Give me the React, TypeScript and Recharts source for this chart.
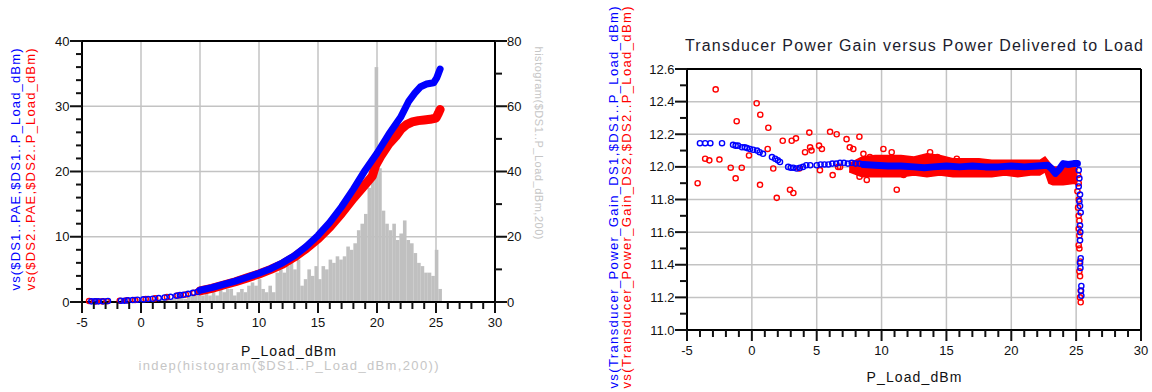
import {
  ComposedChart,
  XAxis,
  YAxis,
  CartesianGrid,
  Scatter,
  Line,
  Bar,
  Area,
  ReferenceLine,
} from 'recharts'

const FONT = '"Liberation Sans", Arial, sans-serif'
const BLUE = '#0000ff'
const RED = '#ff0000'
const GRID = '#c3c3c3'
const HIST_GRAY = '#c0c0c0'
const LIGHT_TEXT = '#c6c6c6'

const X_TICKS = [
  -5, -4, -3, -2, -1, 0, 1, 2, 3, 4, 5, 6, 7, 8, 9, 10, 11, 12, 13, 14, 15, 16, 17, 18, 19, 20, 21,
  22, 23, 24, 25, 26, 27, 28, 29, 30,
]
const X_GRID = [0, 5, 10, 15, 20, 25]
const PAE_TICKS = [0, 2, 4, 6, 8, 10, 12, 14, 16, 18, 20, 22, 24, 26, 28, 30, 32, 34, 36, 38, 40]
const PAE_GRID = [10, 20, 30]
const HIST_TICKS = [0, 10, 20, 30, 40, 50, 60, 70, 80]
const GAIN_TICKS = [
  11.0, 11.1, 11.2, 11.3, 11.4, 11.5, 11.6, 11.7, 11.8, 11.9, 12.0, 12.1, 12.2, 12.3, 12.4, 12.5, 12.6,
]
const GAIN_GRID = [11.2, 11.4, 11.6, 11.8, 12.0, 12.2, 12.4]

// PAE vs P_Load, DS1 (blue) and DS2 (red): sparse low-power points, then the dense sweep
const PAE1_SPARSE_X = [-4.2, -3.9, -3.6, -3.2, -2.8, -1.7, -1.4, -1.1, -0.7, -0.3, 0.2, 0.6, 1.0, 1.5, 2.0, 2.5, 3.0, 3.3, 3.6, 4.0, 4.4, 4.8]
const PAE1_SPARSE_Y = [0.1, 0.1, 0.1, 0.1, 0.15, 0.2, 0.2, 0.25, 0.3, 0.35, 0.4, 0.45, 0.5, 0.6, 0.7, 0.8, 0.95, 1.05, 1.1, 1.25, 1.4, 1.55]
const PAE2_SPARSE_X = [-4.4, -3.8, -3.3, -2.9, -1.8, -1.2, -0.5, 0.4, 1.2, 2.2, 3.1, 3.8, 4.5]
const PAE2_SPARSE_Y = [0.15, 0.1, 0.1, 0.12, 0.2, 0.25, 0.3, 0.45, 0.55, 0.75, 1.0, 1.15, 1.4]

const PAE1_X = [5, 6, 7, 8, 9, 10, 11, 12, 13, 14, 15, 16, 17, 18, 19, 20, 21, 22, 22.7, 23.2, 23.7, 24.2, 24.8, 25.05, 25.2, 25.35]
const PAE1_Y = [1.8, 2.2, 2.7, 3.2, 3.8, 4.4, 5.1, 6.0, 7.1, 8.5, 10.2, 12.2, 14.6, 17.3, 20.2, 22.8, 25.7, 28.3, 30.8, 32.0, 33.0, 33.4, 33.6, 34.3, 35.0, 35.7]
const PAE2_X = [5, 6, 7, 8, 9, 10, 11, 12, 13, 14, 15, 16, 17, 18, 19, 19.6, 19.9, 20.3, 21, 21.6, 22, 22.5, 23, 23.5, 24, 24.5, 25, 25.2, 25.35]
const PAE2_Y = [1.7, 2.1, 2.6, 3.1, 3.7, 4.3, 5.0, 5.8, 6.9, 8.2, 9.7, 11.5, 13.6, 15.9, 18.0, 19.3, 21.0, 22.3, 24.2, 25.4, 26.4, 27.2, 27.6, 27.8, 27.9, 28.0, 28.2, 28.9, 29.5]

// histogram($DS1..P_Load_dBm): bins of 0.3 dBm starting at -4.5
const HIST_FIRST_CENTER = -4.35
const HIST_BIN = 0.3
const HIST_COUNTS = [
  1, 1, 1, 1, 1, 1, 0, 0, 0, 1, 1, 1, 1, 1, 1, 1, 1, 1, 1, 1,
  1, 1, 1, 1, 1, 2, 2, 1, 2, 2, 2, 2, 2, 3, 2, 3, 2, 4, 3, 4,
  4, 2, 3, 4, 3, 5, 6, 5, 7, 4, 3, 5, 3, 9, 10, 9, 11, 12, 10, 13,
  5, 7, 10, 8, 11, 7, 11, 10, 13, 12, 14, 13, 14, 17, 16, 18, 22, 24, 27, 35,
  42, 72, 41, 28, 24, 22, 24, 19, 21, 25, 19, 18, 15, 12, 11, 9, 9, 8, 16, 4,
]

// Transducer power gain vs P_Load
const GAIN1_SPARSE_X = [-4.0, -3.6, -3.2, -2.3, -1.45, -1.25, -1.07, -0.76, -0.55, -0.37, -0.14, 0.1, 0.4, 0.6, 0.86, 1.55, 1.8, 2.0, 2.17, 2.8, 3.0, 3.2, 3.45, 3.7, 3.94, 4.2, 4.5, 5.0, 5.3, 5.6, 5.9, 6.2, 6.5, 6.8, 7.1, 7.4, 7.7, 8.0, 8.3, 8.6]
const GAIN1_SPARSE_Y = [12.145, 12.145, 12.145, 12.145, 12.135, 12.13, 12.13, 12.12, 12.12, 12.115, 12.11, 12.105, 12.1, 12.09, 12.08, 12.06, 12.05, 12.04, 12.03, 12.0, 11.995, 11.995, 11.99, 11.995, 12.0, 12.01, 12.01, 12.01, 12.015, 12.015, 12.015, 12.02, 12.02, 12.025, 12.025, 12.02, 12.025, 12.02, 12.02, 12.015]
const GAIN1_X = [8.6, 9.5, 10.5, 11.5, 12.5, 13.3, 14.0, 15, 16, 17, 18, 19, 20, 21, 22, 22.8, 23.1, 23.4, 23.7, 24.0, 24.4, 24.8, 25.1]
const GAIN1_Y = [12.015, 12.01, 12.005, 12.005, 12.0, 11.995, 12.0, 12.005, 12.0, 12.005, 12.0, 12.0, 12.005, 12.0, 12.005, 12.01, 11.99, 11.96, 11.985, 12.02, 12.015, 12.02, 12.02]
const GAIN1_DROP_X = [25.2, 25.25, 25.2, 25.3, 25.25, 25.3, 25.35, 25.3, 25.32, 25.3, 25.35, 25.3, 25.33, 25.4, 25.38, 25.4]
const GAIN1_DROP_Y = [11.98, 11.93, 11.88, 11.83, 11.79, 11.76, 11.72, 11.64, 11.6, 11.55, 11.44, 11.41, 11.38, 11.27, 11.24, 11.21]

const GAIN2_X = [-4.18, -3.6, -3.28, -2.79, -2.5, -1.63, -1.25, -1.17, -0.78, -0.22, 0.37, 0.65, 0.63, 1.22, 1.27, 1.65, 1.92, 2.38, 2.94, 3.2, 3.07, 3.4, 3.66, 4.1, 4.43, 4.49, 4.6, 5.18, 5.25, 5.4, 6.03, 6.23, 6.54, 6.65, 6.8, 7.3, 7.55, 7.82, 8.29, 8.1, 8.3, 8.86, 8.6, 9.1, 10.14, 10.78, 11.17, 13.74, 9.37, 11.7, 14.3, 15.8]
const GAIN2_Y = [11.9, 12.05, 12.04, 12.475, 12.045, 11.995, 11.93, 12.28, 11.995, 12.07, 12.39, 12.32, 11.89, 12.11, 12.24, 11.99, 11.81, 12.16, 11.86, 11.84, 12.16, 12.175, 11.99, 12.09, 12.21, 12.12, 12.1, 12.13, 11.98, 12.11, 12.215, 11.95, 12.2, 12.0, 12.0, 12.17, 12.12, 12.11, 12.185, 11.99, 11.94, 11.92, 12.08, 12.06, 12.11, 12.09, 11.86, 12.09, 11.96, 11.95, 12.06, 12.05]
const GAIN2_BAND_X = [7.5, 8.5, 9.5, 10.5, 11.5, 12.5, 13.5, 14.5, 15.5, 16.5, 17.5, 18.5, 19.5, 20.5, 21.5, 22.2, 22.6, 22.9, 23.2, 24, 24.9, 25.1]
const GAIN2_BAND_HI = [12.02, 12.06, 12.07, 12.07, 12.07, 12.06, 12.08, 12.07, 12.05, 12.05, 12.05, 12.04, 12.04, 12.04, 12.04, 12.04, 12.06, 12.03, 12.0, 12.0, 12.0, 11.98]
const GAIN2_BAND_LO = [11.97, 11.94, 11.94, 11.94, 11.94, 11.95, 11.94, 11.95, 11.94, 11.94, 11.94, 11.94, 11.95, 11.94, 11.95, 11.95, 11.97, 11.9, 11.89, 11.89, 11.9, 11.88]
const GAIN2_DROP_X = [25.15, 25.2, 25.1, 25.2, 25.15, 25.2, 25.25, 25.2, 25.25, 25.2, 25.25, 25.3, 25.25, 25.3, 25.35, 25.3, 25.35]
const GAIN2_DROP_Y = [11.95, 11.9, 11.85, 11.8, 11.75, 11.7, 11.67, 11.62, 11.58, 11.52, 11.5, 11.42, 11.36, 11.33, 11.24, 11.2, 11.17]

const TITLE = 'Transducer Power Gain versus Power Delivered to Load'

const pts = (xs: number[], ys: number[]) => xs.map((x, i) => ({ x, y: ys[i] }))

const histRows = HIST_COUNTS.map((h, i) => ({
  x: +(HIST_FIRST_CENTER + i * HIST_BIN).toFixed(2),
  h,
}))
const bandRows = GAIN2_BAND_X.map((x, i) => ({ x, y: [GAIN2_BAND_LO[i], GAIN2_BAND_HI[i]] }))

const ring = (color: string) => (p: any) =>
  <circle cx={p.cx} cy={p.cy} r={2.6} fill="none" stroke={color} strokeWidth={1.4} />

// histogram bars: fixed 3.6px width around the bin centre the axis gives us
const HistBar = (p: any) => {
  if (!p.height) return <g />
  const cx = p.x + p.width / 2
  return <rect x={cx - 1.8} y={p.y} width={3.6} height={p.height} fill={HIST_GRAY} />
}

const tickText = { fontFamily: FONT, fontSize: 13, fill: '#111' }
const INK = '#111'

// tick marks as stroked paths, majors longer, labels on the majors only
const XTick = (p: any) => {
  const v = p.payload.value
  const major = v % 5 === 0
  return (
    <g>
      <path d={`M${p.x},${p.y}v${major ? 11 : 7}`} stroke={INK} strokeWidth={2} fill="none" />
      {major && (
        <text x={p.x} y={p.y + 24.5} textAnchor="middle" {...tickText}>
          {v}
        </text>
      )}
    </g>
  )
}

const LeftTick = (isMajor: (v: number) => boolean, minor: number, fmt: (v: number) => string) => (p: any) => {
  const v = p.payload.value
  const major = isMajor(v)
  const len = major ? 12 : minor
  return (
    <g>
      <path d={`M${p.x},${p.y}h${-len}`} stroke={INK} strokeWidth={2} fill="none" />
      {major && (
        <text x={p.x - 12.5} y={p.y + 4.5} textAnchor="end" {...tickText}>
          {fmt(v)}
        </text>
      )}
    </g>
  )
}

const HistTick = (p: any) => {
  const v = p.payload.value
  const major = v % 20 === 0
  return (
    <g>
      <path d={`M${p.x},${p.y}h${major ? 12 : 7}`} stroke={INK} strokeWidth={2} fill="none" />
      {major && (
        <text x={p.x + 12} y={p.y + 4.5} textAnchor="start" {...tickText}>
          {v}
        </text>
      )}
    </g>
  )
}

const PaeTick = LeftTick((v) => v % 10 === 0, 6, (v) => String(v))
const GainTick = LeftTick((v) => Math.round(v * 10) % 2 === 0, 7, (v) => v.toFixed(1))

const rotated = (x: number, y: number, angle: number, color: string, size: number, len: number, txt: string) => (
  <text
    transform={`translate(${x}, ${y}) rotate(${angle})`}
    textAnchor="middle"
    fontFamily={FONT}
    fontSize={size}
    fill={color}
    textLength={len}
    lengthAdjust="spacing"
  >
    {txt}
  </text>
)

const axisLine = { stroke: '#000', strokeWidth: 2 }

function PaeChart() {
  return (
    <ComposedChart width={560} height={392} data={histRows} margin={{ top: 41, right: 0, bottom: 20, left: 0 }}>
      <CartesianGrid
        yAxisId="pae"
        stroke={GRID}
        strokeWidth={1.5}
        verticalValues={X_GRID}
        horizontalValues={PAE_GRID}
      />
      <XAxis
        dataKey="x"
        type="number"
        domain={[-5, 30]}
        ticks={X_TICKS}
        interval={0}
        tickSize={0}
        tickMargin={0}
        tickLine={false}
        tick={XTick}
        axisLine={axisLine}
        height={70}
        label={(p: any) => {
          const vb = p.viewBox
          const cx = vb.x + vb.width / 2
          return (
            <g>
              <text x={cx} y={vb.y + 54} textAnchor="middle" fontFamily={FONT} fontSize={14} fill="#111" textLength={95} lengthAdjust="spacing">
                P_Load_dBm
              </text>
              <text x={cx} y={vb.y + 68} textAnchor="middle" fontFamily={FONT} fontSize={13} fill={LIGHT_TEXT} textLength={300} lengthAdjust="spacing">
                indep(histogram($DS1..P_Load_dBm,200))
              </text>
            </g>
          )
        }}
      />
      <YAxis
        yAxisId="pae"
        type="number"
        domain={[0, 40]}
        ticks={PAE_TICKS}
        interval={0}
        width={82}
        tickSize={0}
        tickMargin={0}
        tickLine={false}
        tick={PaeTick}
        axisLine={axisLine}
        label={(p: any) => {
          const vb = p.viewBox
          const cy = vb.y + vb.height / 2 - 2
          return (
            <g>
              {rotated(vb.x + 20, cy, -90, BLUE, 13, 242, 'vs($DS1..PAE,$DS1..P_Load_dBm)')}
              {rotated(vb.x + 35, cy, -90, RED, 13, 242, 'vs($DS2..PAE,$DS2..P_Load_dBm)')}
            </g>
          )
        }}
      />
      <YAxis
        yAxisId="hist"
        orientation="right"
        type="number"
        domain={[0, 80]}
        ticks={HIST_TICKS}
        interval={0}
        width={65}
        tickSize={0}
        tickMargin={0}
        tickLine={false}
        tick={HistTick}
        axisLine={axisLine}
        label={(p: any) => {
          const vb = p.viewBox
          return rotated(vb.x + 40, 143, 90, LIGHT_TEXT, 11, 193, 'histogram($DS1..P_Load_dBm,200)')
        }}
      />
      <Bar yAxisId="hist" dataKey="h" fill={HIST_GRAY} shape={HistBar} isAnimationActive={false} />
      <Scatter yAxisId="pae" data={pts(PAE2_SPARSE_X, PAE2_SPARSE_Y)} dataKey="y" shape={ring(RED)} isAnimationActive={false} />
      <Line
        yAxisId="pae"
        data={pts(PAE2_X, PAE2_Y)}
        dataKey="y"
        type="linear"
        stroke={RED}
        strokeWidth={9}
        strokeLinecap="round"
        strokeLinejoin="round"
        dot={false}
        isAnimationActive={false}
      />
      <Scatter yAxisId="pae" data={pts(PAE1_SPARSE_X, PAE1_SPARSE_Y)} dataKey="y" shape={ring(BLUE)} isAnimationActive={false} />
      <Line
        yAxisId="pae"
        data={pts(PAE1_X, PAE1_Y)}
        dataKey="y"
        type="linear"
        stroke={BLUE}
        strokeWidth={7}
        strokeLinecap="round"
        strokeLinejoin="round"
        dot={false}
        isAnimationActive={false}
      />
      <ReferenceLine yAxisId="pae" y={40} stroke="#000" strokeWidth={2} ifOverflow="visible" />
    </ComposedChart>
  )
}

function GainChart() {
  return (
    <ComposedChart width={592} height={392} data={bandRows} margin={{ top: 69, right: 11, bottom: 0, left: 0 }}>
      <CartesianGrid stroke={GRID} strokeWidth={1.5} verticalValues={X_GRID} horizontalValues={GAIN_GRID} />
      <XAxis
        dataKey="x"
        type="number"
        domain={[-5, 30]}
        ticks={X_TICKS}
        interval={0}
        tickSize={0}
        tickMargin={0}
        tickLine={false}
        tick={XTick}
        axisLine={axisLine}
        height={62}
        label={(p: any) => {
          const vb = p.viewBox
          return (
            <text x={vb.x + vb.width / 2} y={vb.y + 52} textAnchor="middle" fontFamily={FONT} fontSize={14} fill="#111" textLength={95} lengthAdjust="spacing">
              P_Load_dBm
            </text>
          )
        }}
      />
      <YAxis
        type="number"
        domain={[11, 12.6]}
        ticks={GAIN_TICKS}
        interval={0}
        width={127}
        tickSize={0}
        tickMargin={0}
        tickLine={false}
        tick={GainTick}
        axisLine={axisLine}
        label={(p: any) => {
          const vb = p.viewBox
          const cy = vb.y + vb.height / 2 - 2
          return (
            <g>
              {rotated(vb.x + 58, cy, -90, BLUE, 13, 382, 'vs(Transducer_Power_Gain_DS1,$DS1..P_Load_dBm)')}
              {rotated(vb.x + 71, cy, -90, RED, 13, 382, 'vs(Transducer_Power_Gain_DS2,$DS2..P_Load_dBm)')}
            </g>
          )
        }}
      />
      <Area dataKey="y" type="linear" stroke={RED} strokeWidth={1.5} fill={RED} fillOpacity={1} isAnimationActive={false} />
      <Scatter data={pts(GAIN2_X, GAIN2_Y)} dataKey="y" shape={ring(RED)} isAnimationActive={false} />
      <Scatter data={pts(GAIN2_DROP_X, GAIN2_DROP_Y)} dataKey="y" shape={ring(RED)} isAnimationActive={false} />
      <Scatter data={pts(GAIN1_SPARSE_X, GAIN1_SPARSE_Y)} dataKey="y" shape={ring(BLUE)} isAnimationActive={false} />
      <Line
        data={pts(GAIN1_X, GAIN1_Y)}
        dataKey="y"
        type="linear"
        stroke={BLUE}
        strokeWidth={7}
        strokeLinecap="round"
        strokeLinejoin="round"
        dot={false}
        isAnimationActive={false}
      />
      <Scatter data={pts(GAIN1_DROP_X, GAIN1_DROP_Y)} dataKey="y" shape={ring(BLUE)} isAnimationActive={false} />
      <ReferenceLine
        y={12.6}
        stroke="#000"
        strokeWidth={2}
        ifOverflow="visible"
        label={(p: any) => {
          const vb = p.viewBox
          return (
            <text x={vb.x + vb.width / 2} y={vb.y - 18} textAnchor="middle" fontFamily={FONT} fontSize={16} fill="#1c1c2c" textLength={458} lengthAdjust="spacing">
              {TITLE}
            </text>
          )
        }}
      />
      <ReferenceLine x={30} stroke="#000" strokeWidth={2} ifOverflow="visible" />
    </ComposedChart>
  )
}

export default function App() {
  return (
    <div style={{ position: 'absolute', left: 0, top: 0, width: 1152, height: 392, background: '#fff', fontFamily: FONT }}>
      <div style={{ position: 'absolute', left: 0, top: 0 }}>
        <PaeChart />
      </div>
      <div style={{ position: 'absolute', left: 560, top: 0 }}>
        <GainChart />
      </div>
    </div>
  )
}
